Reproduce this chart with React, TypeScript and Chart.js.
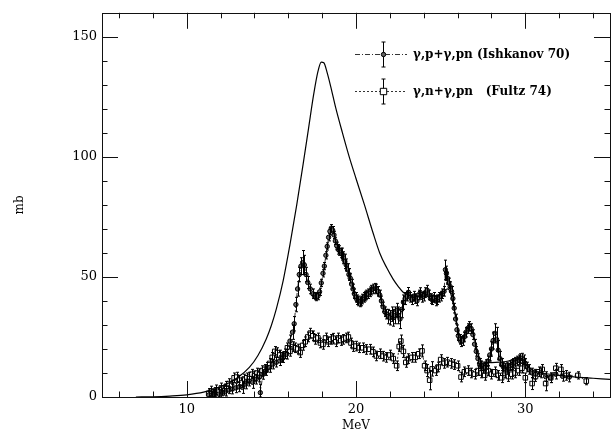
import React, { useEffect, useRef } from "react";
import { Chart, registerables } from "chart.js";

Chart.register(...registerables);

// ---- data ----
const theoryX = [7.0, 8.0, 9.0, 10.0, 11.0, 12.0, 13.0, 13.7, 14.2, 14.7, 15.0, 15.3, 15.7, 16.1, 16.5, 16.9, 17.2, 17.5, 17.75, 17.95, 18.1, 18.3, 18.5, 18.8, 19.2, 19.6, 20.0, 20.5, 21.0, 21.4, 21.8, 22.2, 22.5, 22.8, 23.1, 23.5, 24.0, 24.5, 24.9, 25.2, 25.4, 25.55, 25.7, 25.9, 26.1, 26.3, 26.5, 26.7, 26.9, 27.1, 27.3, 27.5, 28.0, 28.5, 29.0, 29.5, 29.8, 30.1, 30.5, 31.0, 32.0, 33.0, 34.0, 35.0];
const theoryY = [0, 0.1, 0.4, 0.9, 2.0, 4.2, 8.0, 12.3, 17.2, 24.2, 29.8, 36.8, 48.5, 63.5, 80, 98, 112, 126, 135.5, 139.5, 139.2, 135, 129.5, 120.5, 110, 100, 91, 80, 68.5, 60, 54, 49, 46, 43.5, 42.5, 42, 42, 42, 42.5, 44, 45, 44, 40, 33, 26, 25, 27.5, 29.5, 27, 21, 16, 14.5, 14.3, 14.5, 15, 16, 16, 13, 11, 10, 9, 8.3, 7.8, 7.3];

const ishX = [11.3, 11.5, 11.7, 11.9, 12.1, 12.3, 12.5, 12.7, 12.9, 13.1, 13.3, 13.5, 13.7, 13.9, 14.1, 14.3, 14.35, 14.5, 14.7, 14.9, 15.1, 15.3, 15.5, 15.7, 15.9, 16.1, 16.25, 16.35, 16.45, 16.55, 16.65, 16.75, 16.85, 16.95, 17.05, 17.15, 17.3, 17.45, 17.55, 17.65, 17.75, 17.85, 17.95, 18.05, 18.13, 18.22, 18.3, 18.38, 18.46, 18.54, 18.62, 18.7, 18.78, 18.86, 18.94, 19.02, 19.1, 19.18, 19.26, 19.34, 19.42, 19.5, 19.58, 19.66, 19.74, 19.82, 19.9, 19.98, 20.06, 20.14, 20.22, 20.3, 20.38, 20.46, 20.54, 20.62, 20.7, 20.8, 20.9, 21.0, 21.1, 21.2, 21.3, 21.4, 21.5, 21.6, 21.7, 21.8, 21.9, 22.0, 22.1, 22.2, 22.3, 22.4, 22.5, 22.6, 22.7, 22.8, 22.9, 23.0, 23.1, 23.2, 23.3, 23.4, 23.5, 23.6, 23.7, 23.8, 23.9, 24.0, 24.1, 24.2, 24.3, 24.4, 24.5, 24.6, 24.7, 24.8, 24.9, 25.0, 25.1, 25.2, 25.28, 25.34, 25.4, 25.48, 25.56, 25.64, 25.72, 25.8, 25.88, 25.96, 26.04, 26.12, 26.2, 26.3, 26.4, 26.5, 26.6, 26.7, 26.8, 26.9, 27.0, 27.1, 27.2, 27.3, 27.4, 27.5, 27.6, 27.7, 27.8, 27.9, 28.0, 28.1, 28.2, 28.3, 28.4, 28.5, 28.6, 28.7, 28.8, 28.9, 29.0, 29.1, 29.2, 29.3, 29.4, 29.5, 29.6, 29.7, 29.8, 29.9, 30.0, 30.1, 30.2, 30.4, 30.6, 30.9, 31.2, 31.5, 31.8, 32.2, 32.6];
const ishY = [0.8, 1.0, 1.6, 1.2, 2.0, 2.4, 2.9, 3.3, 3.8, 4.2, 4.0, 5.4, 6.6, 6.1, 7.4, 8.3, 1.8, 9.4, 11.0, 12.3, 13.7, 14.5, 15.1, 16.4, 17.8, 23.3, 27.0, 30.5, 38.5, 45.0, 51.0, 54.5, 56.0, 55.0, 51.0, 47.7, 45.0, 43.0, 42.0, 41.6, 42.0, 43.8, 47.5, 51.5, 54.5, 59.0, 62.7, 66.5, 69.0, 70.3, 69.5, 67.5, 65.0, 63.0, 61.5, 61.0, 60.0, 59.5, 58.0, 56.5, 55.0, 53.0, 51.0, 49.5, 47.0, 45.0, 43.0, 41.5, 40.5, 40.0, 39.6, 40.0, 40.8, 41.5, 42.0, 42.5, 43.0, 43.8, 44.5, 45.0, 45.3, 45.0, 44.0, 42.5, 40.0, 37.5, 35.5, 34.5, 33.5, 33.0, 34.5, 33.0, 34.0, 36.0, 34.0, 32.5, 36.5, 39.5, 41.0, 42.0, 43.6, 41.5, 40.5, 42.0, 41.0, 40.0, 42.5, 43.5, 41.5, 42.0, 43.5, 44.5, 42.5, 41.0, 40.5, 41.5, 40.0, 40.5, 41.5, 42.0, 43.0, 44.0, 53.0, 51.5, 49.5, 47.5, 46.0, 44.0, 41.0, 37.0, 32.5, 28.0, 25.5, 24.0, 23.0, 23.5, 25.0, 27.0, 28.5, 29.4, 28.5, 26.0, 22.0, 19.0, 16.0, 14.0, 13.0, 12.0, 12.5, 13.5, 15.0, 17.5, 20.0, 23.5, 26.5, 24.0, 19.5, 16.0, 13.5, 12.5, 12.0, 12.5, 12.0, 13.0, 13.5, 14.0, 14.5, 15.0, 15.5, 16.0, 16.2, 15.5, 14.0, 12.5, 11.5, 10.0, 9.5, 10.0, 8.5, 8.0, 9.5, 8.6, 8.3];
const ishErr = [1.5, 1.5, 1.5, 2, 1.5, 2, 1.5, 2, 2, 2, 2.5, 2, 2, 2.5, 2, 2, 3.5, 2, 2, 2, 2, 2, 2, 2, 2, 2.5, 3, 3, 3, 3, 3, 3.5, 5, 4, 3, 2.5, 2, 2, 1.5, 1.5, 1.5, 1.5, 1.5, 1.5, 1.5, 1.5, 1.5, 1.5, 1.5, 1.5, 1.5, 1.5, 1.5, 1.5, 2, 2, 2, 2.5, 2.5, 3, 2.5, 2.5, 2.5, 2, 2, 2, 2, 2, 2, 2, 2, 2, 2, 2, 2, 2, 2, 2, 2, 2, 2, 2, 2, 2, 2, 2, 2, 2, 3, 3, 3, 3.5, 3.5, 3, 3.5, 4, 3.5, 3, 2.5, 2, 2, 2, 2, 2, 2, 2, 2, 2, 2, 2, 2, 2, 2, 2, 2, 2, 2, 2, 2, 2, 2, 2, 4, 3, 2.5, 2, 2, 2, 2, 2, 2, 2, 2, 2, 2, 2, 2, 2, 2, 2, 2, 2, 2, 2, 2, 2, 2, 2, 2, 2, 2, 2.5, 3, 3.5, 4, 5, 4, 3, 2.5, 2, 2, 2, 2, 2, 2, 2, 2, 2, 2, 2, 2, 2, 2, 2, 2, 2, 2, 2, 2, 2, 2, 2, 2, 1.5, 1.5];

const fulX = [11.3, 11.45, 11.6, 11.75, 11.9, 12.05, 12.2, 12.35, 12.5, 12.65, 12.8, 12.95, 13.1, 13.25, 13.4, 13.55, 13.7, 13.85, 14.0, 14.15, 14.3, 14.45, 14.6, 14.75, 14.9, 15.05, 15.2, 15.35, 15.5, 15.65, 15.8, 15.95, 16.1, 16.25, 16.4, 16.55, 16.7, 16.85, 17.0, 17.15, 17.3, 17.45, 17.6, 17.75, 17.9, 18.05, 18.2, 18.35, 18.5, 18.65, 18.8, 18.95, 19.1, 19.25, 19.4, 19.55, 19.7, 19.85, 20.0, 20.2, 20.4, 20.6, 20.8, 21.0, 21.2, 21.4, 21.6, 21.8, 22.0, 22.2, 22.4, 22.55, 22.65, 22.8, 22.94, 23.1, 23.3, 23.5, 23.7, 23.9, 24.05, 24.2, 24.35, 24.5, 24.7, 24.85, 25.0, 25.2, 25.4, 25.6, 25.8, 26.0, 26.2, 26.4, 26.6, 26.8, 27.0, 27.2, 27.4, 27.6, 27.8, 28.0, 28.2, 28.4, 28.6, 28.8, 29.0, 29.2, 29.4, 29.6, 29.8, 30.0, 30.4, 30.6, 30.8, 31.0, 31.2, 31.5, 31.8, 32.1, 32.4, 33.1, 33.6];
const fulY = [1.5, 2.5, 1.2, 3.0, 2.0, 3.8, 2.8, 4.5, 5.6, 4.8, 8.0, 8.3, 7.0, 6.0, 7.5, 8.0, 8.3, 9.5, 8.8, 10.0, 9.7, 11.0, 11.5, 12.4, 14.0, 16.5, 19.0, 18.5, 17.5, 16.5, 18.0, 20.5, 19.0, 21.0, 20.5, 20.0, 18.5, 21.5, 23.0, 25.0, 26.6, 25.5, 24.0, 24.6, 22.5, 21.9, 24.6, 23.0, 24.0, 24.5, 23.0, 24.6, 23.5, 24.0, 24.6, 25.0, 22.5, 21.0, 21.2, 20.5, 20.5, 19.8, 19.9, 18.8, 17.1, 18.0, 17.0, 16.5, 17.5, 16.0, 13.0, 21.0, 23.3, 19.0, 14.4, 16.0, 16.5, 16.5, 18.0, 19.2, 13.0, 11.0, 7.0, 11.7, 11.0, 12.5, 15.6, 14.0, 14.5, 14.0, 13.5, 13.0, 8.3, 10.5, 11.0, 10.0, 9.5, 11.0, 10.0, 9.0, 11.0, 9.5, 10.5, 9.0, 8.0, 10.0, 8.5, 9.5, 10.0, 11.0, 12.0, 8.0, 5.6, 8.5, 10.5, 11.5, 5.6, 8.0, 12.0, 11.5, 9.0, 9.0, 6.6];
const fulErr = [2, 2, 2, 2, 2, 2, 2, 2, 2, 2, 2, 2, 2, 2, 2, 2, 2, 2, 2, 2, 2, 2, 2, 2, 2, 2, 2, 2, 2, 2, 2, 2, 2, 2, 2, 2, 2, 2, 2, 2, 2, 2, 2, 2, 2, 2, 2, 2, 2, 2, 2, 2, 2, 2, 2, 2, 2, 2, 2, 2, 2, 2, 2, 2, 2, 2, 2, 2, 2, 2, 2, 2, 2.5, 2.5, 2, 2, 2, 2, 2, 2.5, 2, 2.5, 4, 3, 2, 2, 2, 2, 2, 2, 2, 2, 2, 2, 2, 2, 2, 2, 2, 2, 2, 2, 2, 2, 2, 2, 2, 2, 2, 2, 2, 2, 2.5, 2, 2, 2, 3, 2, 2, 2, 2, 1.5, 1.5];

const xMajorTicks = [10, 20, 30];
const xMinorTicks = [6, 8, 12, 14, 16, 18, 22, 24, 26, 28, 32, 34];
const yMajorTicks = [0, 50, 100, 150];
const yMinorTicks = [10, 20, 30, 40, 60, 70, 80, 90, 110, 120, 130, 140];

const seriesLabels = ["γ,p+γ,pn (Ishkanov 70)", "γ,n+γ,pn   (Fultz 74)"];
const xTitle = "MeV";
const yTitle = "mb";

const FONT = '"DejaVu Serif", "Liberation Serif", serif';

const toPts = (xs: number[], ys: number[]) => xs.map((x, i) => ({ x, y: ys[i] }));

const frameTicksPlugin = {
  id: "frameTicks",
  afterDraw(chart: any) {
    const { ctx, chartArea: a, scales } = chart;
    const xs = scales.x, ys = scales.y;
    ctx.save();
    ctx.strokeStyle = "#111";
    ctx.lineWidth = 1;
    ctx.strokeRect(Math.round(a.left) + 0.5, Math.round(a.top) + 0.5, Math.round(a.right - a.left), Math.round(a.bottom - a.top));
    const majorLen = 16, minorLen = 5.5;
    ctx.beginPath();
    const xTick = (v: number, len: number) => {
      const p = Math.round(xs.getPixelForValue(v)) + 0.5;
      ctx.moveTo(p, a.bottom); ctx.lineTo(p, a.bottom - len);
      ctx.moveTo(p, a.top); ctx.lineTo(p, a.top + len);
    };
    const yTick = (v: number, len: number) => {
      const p = Math.round(ys.getPixelForValue(v)) + 0.5;
      ctx.moveTo(a.left, p); ctx.lineTo(a.left + len, p);
      ctx.moveTo(a.right, p); ctx.lineTo(a.right - len, p);
    };
    xMajorTicks.forEach((v) => xTick(v, majorLen));
    xMinorTicks.forEach((v) => xTick(v, minorLen));
    yMajorTicks.forEach((v) => yTick(v, majorLen));
    yMinorTicks.forEach((v) => yTick(v, minorLen));
    ctx.stroke();
    ctx.restore();
  },
};

const errorBarPlugin = {
  id: "errorBars",
  afterDatasetsDraw(chart: any) {
    const { ctx, scales } = chart;
    ctx.save();
    ctx.strokeStyle = "#000";
    ctx.lineWidth = 1;
    chart.data.datasets.forEach((ds: any) => {
      if (!ds.errors) return;
      ctx.beginPath();
      ds.data.forEach((pt: any, i: number) => {
        const e = ds.errors[i];
        const px = Math.round(scales.x.getPixelForValue(pt.x)) + 0.5;
        const y1 = scales.y.getPixelForValue(pt.y + e);
        const y2 = scales.y.getPixelForValue(Math.max(0, pt.y - e));
        ctx.moveTo(px, y1); ctx.lineTo(px, y2);
        ctx.moveTo(px - 1.5, y1); ctx.lineTo(px + 1.5, y1);
        ctx.moveTo(px - 1.5, y2); ctx.lineTo(px + 1.5, y2);
      });
      ctx.stroke();
    });
    ctx.restore();
  },
};

const legendPlugin = {
  id: "plotLegend",
  afterDraw(chart: any) {
    const { ctx } = chart;
    const rows = [
      { ds: chart.data.datasets[1], y: 54, dash: [5, 2, 1, 2] },
      { ds: chart.data.datasets[2], y: 91, dash: [2, 2] },
    ];
    ctx.save();
    rows.forEach((r) => {
      const y = r.y + 0.5;
      ctx.strokeStyle = "#333";
      ctx.lineWidth = 1;
      ctx.setLineDash(r.dash);
      ctx.beginPath();
      ctx.moveTo(355, y); ctx.lineTo(407, y);
      ctx.stroke();
      ctx.setLineDash([]);
      ctx.strokeStyle = "#000";
      ctx.beginPath();
      ctx.moveTo(383.5, y - 12.5); ctx.lineTo(383.5, y + 12.5);
      ctx.moveTo(381.5, y - 12.5); ctx.lineTo(385.5, y - 12.5);
      ctx.moveTo(381.5, y + 12.5); ctx.lineTo(385.5, y + 12.5);
      ctx.stroke();
      ctx.fillStyle = r.ds.backgroundColor;
      ctx.beginPath();
      if (r.ds.pointStyle === "rect") {
        const s = r.ds.pointRadius;
        ctx.rect(383.5 - s, y - s, 2 * s, 2 * s);
      } else {
        ctx.arc(383.5, y, r.ds.pointRadius, 0, Math.PI * 2);
      }
      ctx.fill();
      ctx.stroke();
      ctx.fillStyle = "#000";
      ctx.font = `bold 12px ${FONT}`;
      ctx.textAlign = "left";
      ctx.textBaseline = "middle";
      ctx.fillText(r.ds.label, 413, r.y + 1);
    });
    ctx.restore();
  },
};

export default function App() {
  const ref = useRef<HTMLCanvasElement | null>(null);
  useEffect(() => {
    if (!ref.current) return;
    const tickFont = { family: FONT, size: 13 };
    const chart = new Chart(ref.current, {
      type: "scatter",
      data: {
        datasets: [
          {
            label: "theory",
            data: toPts(theoryX, theoryY),
            showLine: true,
            borderColor: "#000",
            borderWidth: 1.2,
            pointRadius: 0,
            cubicInterpolationMode: "monotone",
          } as any,
          {
            label: seriesLabels[0],
            data: toPts(ishX, ishY),
            errors: ishErr,
            showLine: true,
            borderColor: "#333",
            borderWidth: 1,
            borderDash: [5, 2, 1, 2],
            pointStyle: "circle",
            pointRadius: 2.2,
            pointBorderWidth: 1,
            pointBorderColor: "#000",
            backgroundColor: "#666",
            pointBackgroundColor: "#666",
            tension: 0,
          } as any,
          {
            label: seriesLabels[1],
            data: toPts(fulX, fulY),
            errors: fulErr,
            showLine: true,
            borderColor: "#333",
            borderWidth: 1,
            borderDash: [2, 2],
            pointStyle: "rect",
            pointRadius: 3.2,
            pointBorderWidth: 1,
            pointBorderColor: "#000",
            backgroundColor: "#fff",
            pointBackgroundColor: "#fff",
            tension: 0,
          } as any,
        ],
      },
      options: {
        responsive: false,
        devicePixelRatio: 1,
        animation: false,
        layout: { padding: { top: 5, right: 2, left: 0, bottom: 0 } },
        plugins: { legend: { display: false }, tooltip: { enabled: false } },
        scales: {
          x: {
            type: "linear",
            min: 5,
            max: 35,
            afterBuildTicks: (s: any) => { s.ticks = xMajorTicks.map((value) => ({ value })); },
            afterFit: (s: any) => { s.height = 37; },
            ticks: { font: tickFont, color: "#000", padding: 5, maxRotation: 0, autoSkip: false },
            grid: { display: false, drawTicks: false },
            border: { display: false },
            title: { display: true, text: xTitle, color: "#000", font: { family: FONT, size: 12, weight: "normal" }, padding: { top: 0, bottom: 1 } },
          },
          y: {
            type: "linear",
            min: 0,
            max: 160,
            afterBuildTicks: (s: any) => { s.ticks = yMajorTicks.map((value) => ({ value })); },
            afterFit: (s: any) => { s.width = 102; },
            ticks: { font: tickFont, color: "#000", padding: 5, autoSkip: false },
            grid: { display: false, drawTicks: false },
            border: { display: false },
            title: { display: true, text: yTitle, color: "#000", font: { family: FONT, size: 12, weight: "normal" }, padding: { top: 13, bottom: 0 } },
          },
        },
      },
      plugins: [errorBarPlugin, frameTicksPlugin, legendPlugin],
    } as any);
    return () => chart.destroy();
  }, []);
  return (
    <div style={{ position: "absolute", left: 0, top: 0, width: 615, height: 434, background: "#fff" }}>
      <canvas ref={ref} width={615} height={434} style={{ display: "block", width: 615, height: 434 }} />
    </div>
  );
}
